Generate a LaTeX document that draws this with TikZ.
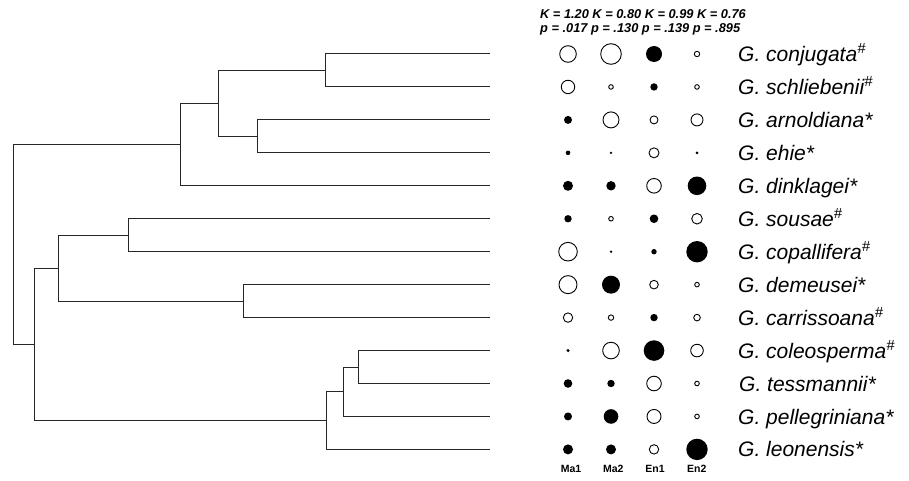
\documentclass[tikz,border=0pt]{standalone}
\usepackage{fontspec}
\setmainfont{Liberation Sans}
\begin{document}
\begin{tikzpicture}
  [x=1pt,y=-1pt,
   branch/.style={draw=black!85,line width=1pt},
   fdot/.style={circle,fill=black,inner sep=0pt,minimum size=#1},
   odot/.style={circle,draw=black,line width=0.9pt,fill=white,inner sep=0pt,minimum size=#1},
   taxon/.style={anchor=base west,inner sep=0pt,font=\fontsize{21}{24}\selectfont\itshape},
   stat/.style={anchor=base west,inner sep=0pt,font=\fontsize{12.8}{14}\selectfont\bfseries\itshape},
   trait/.style={anchor=base,inner sep=0pt,font=\fontsize{10.5}{12}\selectfont\bfseries}]
  \useasboundingbox (0,0) rectangle (909,481);

  \foreach \i in {1,...,13}
    \coordinate (t\i) at (490,{54+32.95*(\i-1)});

  \coordinate (a1) at (325,70.5);
  \coordinate (a2) at (257,136.4);
  \coordinate (a3) at (218,103.4);
  \coordinate (a4) at (180,144.6);
  \coordinate (b1) at (128,235.2);
  \coordinate (b2) at (243,301.1);
  \coordinate (b3) at (58.7,268.2);
  \coordinate (c1) at (358,367.0);
  \coordinate (c2) at (343,391.7);
  \coordinate (c3) at (326,420.6);
  \coordinate (b4) at (34.3,344.4);
  \coordinate (r) at (13.3,244.5);

  \foreach \from/\to in {r/a4,r/b4,a4/a3,a4/t5,a3/a1,a3/a2,a1/t1,a1/t2,a2/t3,a2/t4,
      b4/b3,b4/c3,b3/b1,b3/b2,b1/t6,b1/t7,b2/t8,b2/t9,c3/c2,c3/t13,c2/c1,c2/t12,c1/t10,c1/t11}
    \draw[branch] (\from) |- (\to);

  \foreach \r/\c/\s in {1/1/8.3,1/2/10.3,1/4/2.7,2/1/6.7,2/2/2.3,2/4/2.3,3/2/8,3/3/4,3/4/6,
      4/3/5,5/3/7.3,6/2/2.3,6/4/5.3,7/1/9.3,8/1/9,8/3/4.3,8/4/2.3,9/1/4.7,9/2/2.7,9/4/3.3,
      10/2/8.3,10/4/6.3,11/3/7.3,11/4/2.3,12/3/7,12/4/2.3,13/3/4.7}
    \node[odot={\s*2pt}] (d\r-\c) at ({568+43*(\c-1)},{54+32.95*(\r-1)}) {};

  \foreach \r/\c/\s in {1/3/8,2/3/3.7,3/1/4,4/1/2.3,4/2/1.3,4/4/1.5,5/1/5,5/2/4.7,5/4/9.3,
      6/1/3.7,6/3/4.3,7/2/1.3,7/3/2.7,7/4/10.7,8/2/9,9/3/3.7,10/1/1.7,10/3/10.3,
      11/1/4.3,11/2/3.7,12/1/4,12/2/7.3,13/1/5,13/2/5,13/4/10.7}
    \node[fdot={\s*2pt}] (d\r-\c) at ({568+43*(\c-1)},{54+32.95*(\r-1)}) {};

  \node[taxon] (l1) at (738,61.5) {G. conjugata\textsuperscript{\#}};
  \node[taxon] (l2) at (738,94.5) {G. schliebenii\textsuperscript{\#}};
  \node[taxon] (l3) at (738,127.4) {G. arnoldiana*};
  \node[taxon] (l4) at (738,160.4) {G. ehie*};
  \node[taxon] (l5) at (738,193.3) {G. dinklagei*};
  \node[taxon] (l6) at (738,226.3) {G. sousae\textsuperscript{\#}};
  \node[taxon] (l7) at (738,259.2) {G. copallifera\textsuperscript{\#}};
  \node[taxon] (l8) at (738,292.2) {G. demeusei*};
  \node[taxon] (l9) at (738,325.1) {G. carrissoana\textsuperscript{\#}};
  \node[taxon] (l10) at (738,358.1) {G. coleosperma\textsuperscript{\#}};
  \node[taxon] (l11) at (739,391.0) {G. tessmannii*};
  \node[taxon] (l12) at (738,424.0) {G. pellegriniana*};
  \node[taxon] (l13) at (738,456.9) {G. leonensis*};

  \node[stat] (kline) at (540,18.3) {K = 1.20 K = 0.80 K = 0.99 K = 0.76};
  \node[stat] (pline) at (540,33) {p = .017 p = .130 p = .139 p = .895};

  \node[trait] (m1) at (571,472) {Ma1};
  \node[trait] (m2) at (613.3,472) {Ma2};
  \node[trait] (e1) at (655,472) {En1};
  \node[trait] (e2) at (696.7,472) {En2};

\end{tikzpicture}
\end{document}
